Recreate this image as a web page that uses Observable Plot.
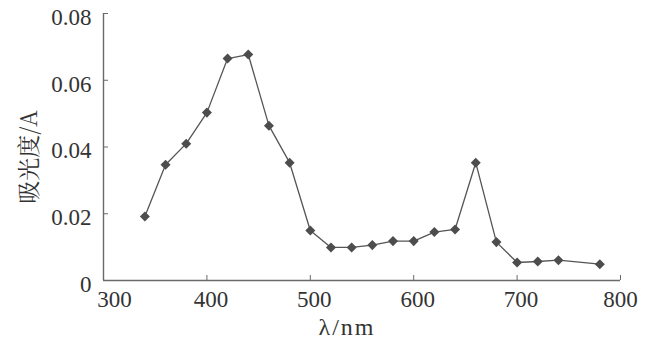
<!DOCTYPE html>
<html>
<head>
<meta charset="utf-8">
<script src="https://cdn.jsdelivr.net/npm/d3@7"></script>
<script src="https://cdn.jsdelivr.net/npm/@observablehq/plot@0.6"></script>
<style>
  html, body { margin: 0; padding: 0; background: #fff; }
  #chart svg { display: block; }
</style>
</head>
<body>
<div id="chart"></div>
<script>
const wavelength = [340, 360, 380, 400, 420, 440, 460, 480, 500, 520, 540, 560, 580, 600, 620, 640, 660, 680, 700, 720, 740, 780];
const absorbance = [0.0192, 0.0347, 0.0410, 0.0503, 0.0665, 0.0677, 0.0464, 0.0353, 0.0150, 0.0099, 0.0099, 0.0106, 0.0118, 0.0118, 0.0145, 0.0153, 0.0353, 0.0115, 0.0054, 0.0057, 0.0061, 0.0049];
const xTicks = [300, 400, 500, 600, 700, 800];
const yTicks = [0, 0.02, 0.04, 0.06, 0.08];
const yTickLabels = ["0", "0.02", "0.04", "0.06", "0.08"];
const xLabel = "λ/nm";
const yLabel = "吸光度/A";

const data = wavelength.map((w, i) => ({w, a: absorbance[i]}));
const ink = "#555";
const axisInk = "#6a6a6a";
const serif = "'Liberation Serif', 'Times New Roman', serif";
const cjkSerif = "'Noto Serif CJK SC', 'Liberation Serif', serif";

const xLabelStyle = {anchor: "bottom", tickSize: 0, tickPadding: 10, fontSize: 23, fill: "#333", label: null, tickFormat: d => String(d)};

const chart = Plot.plot({
  width: 652,
  height: 346,
  marginLeft: 103,
  marginRight: 32,
  marginTop: 13,
  marginBottom: 66,
  style: {background: "#fff", color: "#333"},
  x: {domain: [300, 800]},
  y: {domain: [0, 0.08]},
  marks: [
    Plot.ruleY([0], {stroke: axisInk, strokeWidth: 1.4}),
    Plot.ruleX([300], {stroke: axisInk, strokeWidth: 1.4}),
    Plot.axisX(xTicks, {tickSize: -5, stroke: axisInk, label: null, tickFormat: () => ""}),
    Plot.axisX(xTicks.slice(0, 1), {...xLabelStyle, dx: 11}),
    Plot.axisX(xTicks.slice(1, 5), {...xLabelStyle, dx: 4}),
    Plot.axisX(xTicks.slice(5), {...xLabelStyle, dx: 0}),
    Plot.axisY(yTicks, {anchor: "left", tickSize: -5, stroke: axisInk, label: null, tickFormat: () => ""}),
    Plot.axisY(yTicks, {anchor: "left", tickSize: 0, tickPadding: 12, dy: 4, fontSize: 23, fill: "#333", label: null, tickFormat: (d, i) => yTickLabels[i]}),
    Plot.line(data, {x: "w", y: "a", stroke: ink, strokeWidth: 1.3}),
    Plot.dot(data, {x: "w", y: "a", symbol: "square", rotate: 45, r: 4, fill: "#4d4d4d", stroke: "none"}),
    Plot.text([xLabel], {frameAnchor: "bottom", textAnchor: "middle", dx: -15, dy: 54, fontSize: 24, fill: "#333", className: "xlab"}),
    Plot.text([yLabel], {frameAnchor: "left", textAnchor: "middle", lineAnchor: "middle", dx: -74, dy: 10, rotate: -90, fontSize: 23, fill: "#333", className: "ylab"})
  ]
});
const svg = d3.select(chart);
svg.attr("font-family", serif);
svg.selectAll("text").style("font-family", serif);
svg.selectAll(".xlab text").style("letter-spacing", "2px");
svg.selectAll(".ylab text").style("font-family", cjkSerif);
document.getElementById("chart").appendChild(chart);
</script>
</body>
</html>
